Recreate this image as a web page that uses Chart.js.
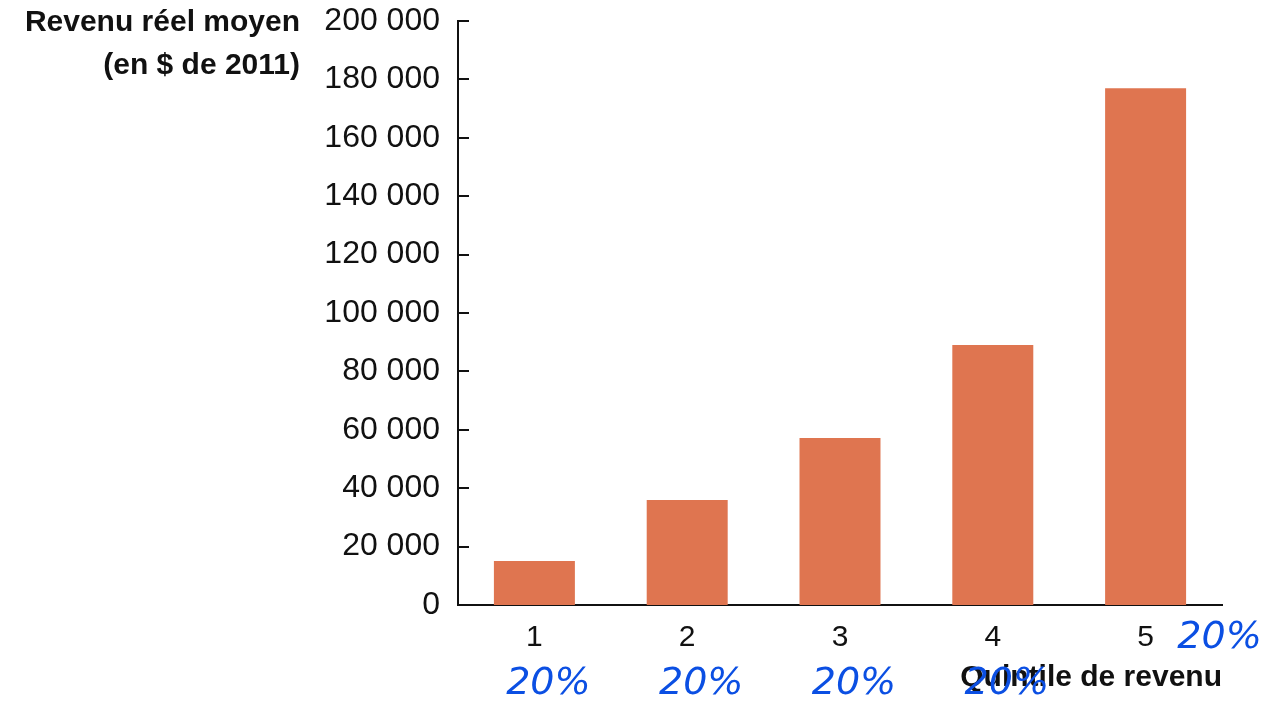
<!DOCTYPE html>
<html>
<head>
<meta charset="utf-8">
<script src="https://cdn.jsdelivr.net/npm/chart.js@4.4.1/dist/chart.umd.min.js"></script>
<style>
  body { margin: 0; background: #fff; }
  #wrap { width: 1264px; height: 706px; position: relative; }
</style>
</head>
<body>
<div id="wrap"><canvas id="chart"></canvas></div>
<script>
// Data
const quintiles = ["1", "2", "3", "4", "5"];
const avgIncome = [15100, 36000, 57200, 89000, 177000];
const yTicks = [0, 20000, 40000, 60000, 80000, 100000, 120000, 140000, 160000, 180000, 200000];
const yTitle = ["Revenu réel moyen", "(en $ de 2011)"];
const xTitle = "Quintile de revenu";
const notes = ["20%", "20%", "20%", "20%", "20%"];

const fmt = (v) => String(v).replace(/\B(?=(\d{3})+(?!\d))/g, " ");

// Inward tick marks, the y title block and the hand-written notes
const extras = {
  id: "extras",
  afterDraw(chart) {
    const ctx = chart.ctx;
    const y = chart.scales.y;
    const x = chart.scales.x;
    ctx.save();
    ctx.strokeStyle = "#111";
    ctx.lineWidth = 2;
    yTicks.forEach((t) => {
      const py = Math.round(y.getPixelForValue(t));
      ctx.beginPath();
      ctx.moveTo(y.right, py);
      ctx.lineTo(y.right + 11, py);
      ctx.stroke();
    });

    ctx.fillStyle = "#111";
    ctx.font = "bold 30px 'Liberation Sans', Arial, sans-serif";
    ctx.textAlign = "right";
    ctx.textBaseline = "middle";
    ctx.fillText(yTitle[0], 300, 23);
    ctx.fillText(yTitle[1], 300, 66);

    // blue hand-written notes under each quintile
    ctx.fillStyle = "#0b4fe3";
    ctx.font = "italic 38px 'DejaVu Sans', sans-serif";
    ctx.textAlign = "center";
    notes.forEach((n, i) => {
      const px = x.getPixelForValue(i);
      if (i === 4) {
        ctx.fillText(n, px + 74, 638);
      } else {
        ctx.fillText(n, px + 14, 684);
      }
    });
    ctx.restore();
  }
};

new Chart(document.getElementById("chart"), {
  type: "bar",
  data: {
    labels: quintiles,
    datasets: [{
      data: avgIncome,
      backgroundColor: "#df7550",
      borderWidth: 0,
      categoryPercentage: 1,
      barPercentage: 0.53
    }]
  },
  options: {
    responsive: true,
    maintainAspectRatio: false,
    animation: false,
    layout: { padding: { top: 21, right: 42, left: 0, bottom: 0 } },
    plugins: {
      legend: { display: false },
      tooltip: { enabled: false }
    },
    scales: {
      y: {
        min: 0,
        max: 200000,
        afterFit: (s) => { s.width = 458; s.paddingTop = 0; s.paddingBottom = 0; },
        afterBuildTicks: (s) => { s.ticks = yTicks.map((v) => ({ value: v })); },
        grid: { display: false, drawTicks: false },
        border: { display: true, color: "#111", width: 2 },
        ticks: {
          padding: 18,
          color: "#111",
          font: { family: "'Liberation Sans', Arial, sans-serif", size: 32 },
          callback: (v) => fmt(v)
        }
      },
      x: {
        afterFit: (s) => { s.height = 101; },
        grid: { display: false, drawTicks: false },
        border: { display: true, color: "#111", width: 2 },
        ticks: {
          padding: 15,
          color: "#111",
          font: { family: "'Liberation Sans', Arial, sans-serif", size: 30 }
        },
        title: {
          display: true,
          text: xTitle,
          align: "end",
          color: "#111",
          padding: { top: 0, bottom: 10 },
          font: { family: "'Liberation Sans', Arial, sans-serif", size: 30, weight: "bold" }
        }
      }
    }
  },
  plugins: [extras]
});
</script>
</body>
</html>
